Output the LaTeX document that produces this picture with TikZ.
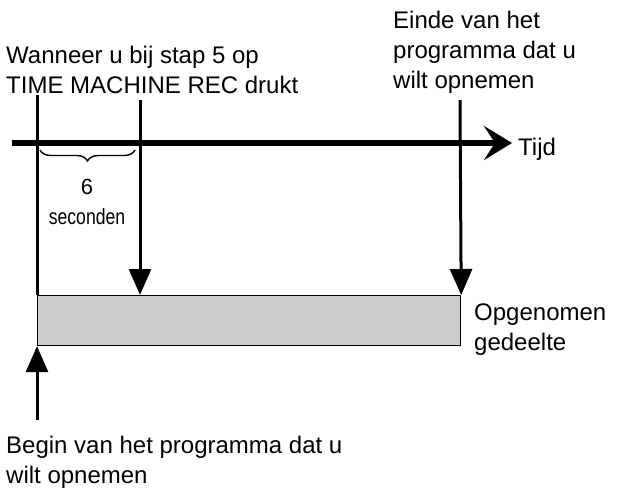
\documentclass[tikz,border=0pt]{standalone}
\usepackage{fontspec}
\setmainfont{Liberation Sans}
\usetikzlibrary{arrows.meta,decorations.pathreplacing}
\begin{document}
\begin{tikzpicture}[x=1pt,y=-1pt,
  lbl/.style={anchor=west,align=left,inner sep=0pt,font=\fontsize{24}{30}\selectfont},
  ln/.style={line width=3pt},
  arr/.style={line width=3pt,-{Triangle[length=26pt,width=22pt]}}]
\useasboundingbox (0,0) rectangle (629,496);
\node[lbl] (t1) at (6,70) {Wanneer u bij stap 5 op\\TIME MACHINE REC drukt};
\node[lbl] (t2) at (393,52) {Einde van het\\programma dat u\\wilt opnemen};
\node[lbl] (tijd) at (518,149) {Tijd};
\node[lbl] (rec) at (474,330) {Opgenomen\\gedeelte};
\node[lbl] (t3) at (6,462) {Begin van het programma dat u\\wilt opnemen};
\node[draw,line width=1.2pt,fill=black!20,minimum width=423pt,minimum height=50pt,anchor=north west,inner sep=0pt] (r) at (37,295) {};
\coordinate (a0) at (12,143); \coordinate (a1) at (512,143);
\draw[line width=6pt,-{Stealth[length=28pt,width=34pt,inset=11pt]}] (a0) -- (a1);
\coordinate (l0) at (37,95);
\draw[ln] (l0) -- (r.north west);
\coordinate (b0) at (37,420);
\draw[arr] (b0) -- (r.south west);
\coordinate (m0) at (140,100); \coordinate (m1) at (140,295);
\draw[arr] (m0) -- (m1);
\coordinate (e0) at (460,100);
\draw[arr] (e0) -- (r.north east);
\coordinate (br0) at (40,150); \coordinate (br1) at (135,150);
\draw[line width=1.4pt,decorate,decoration={brace,mirror,amplitude=11pt}] (br0) -- (br1);
\node[inner sep=0pt,font=\fontsize{22}{24}\selectfont] (six) at (87,187) {6};
\node[inner sep=0pt,font=\fontsize{22}{24}\selectfont,xscale=0.8] (sec) at (87,217) {seconden};
\end{tikzpicture}
\end{document}
